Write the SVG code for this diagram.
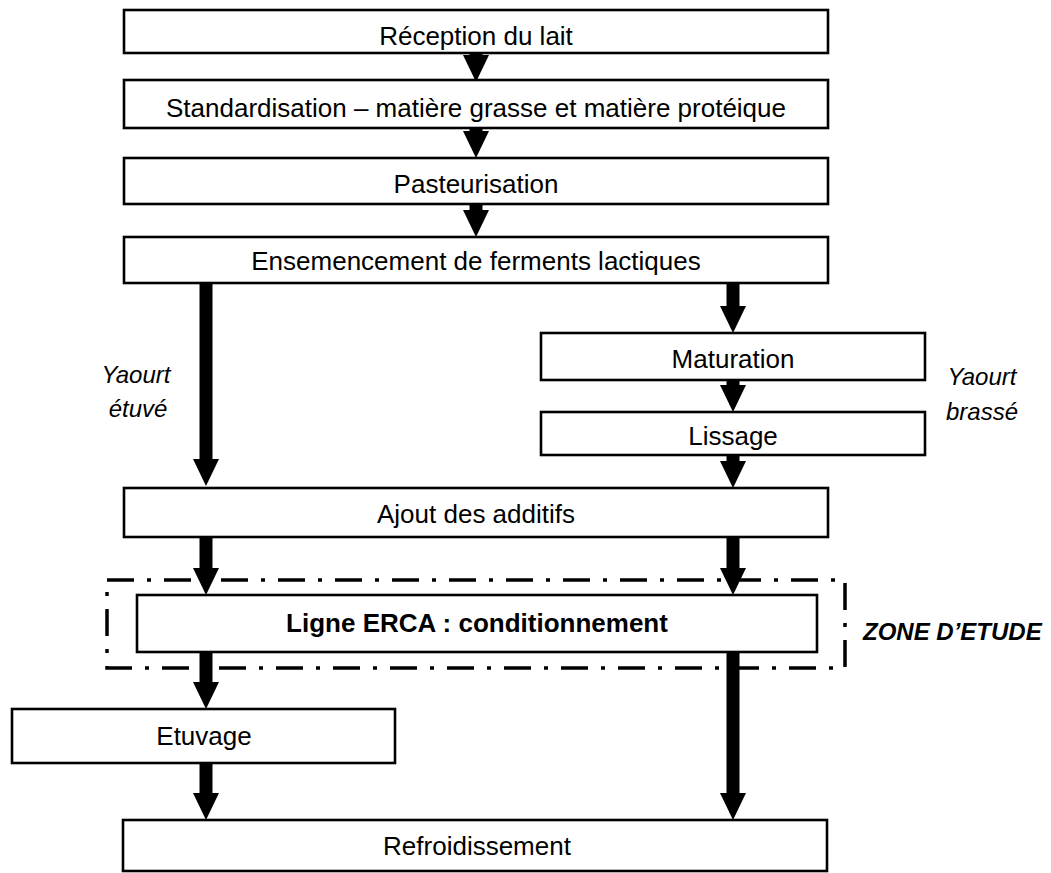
<svg xmlns="http://www.w3.org/2000/svg" width="1051" height="873" viewBox="0 0 1051 873">
<style>
.box{fill:#fff;stroke:#000;stroke-width:2.6}
.t{font-family:"Liberation Sans",Arial,sans-serif;font-size:26px;text-anchor:middle;fill:#000}
.b{font-weight:bold}
.lbl{font-family:"Liberation Sans",Arial,sans-serif;font-size:24px;font-style:italic;text-anchor:middle;fill:#000}
.zone{font-family:"Liberation Sans",Arial,sans-serif;font-size:24px;font-style:italic;font-weight:bold;fill:#000}
.c{stroke:#000;stroke-width:13;fill:none;marker-end:url(#ah)}
.dash{fill:none;stroke:#000;stroke-width:3.5;stroke-dasharray:27 13 4 13}
</style>
<defs>
<marker id="ah" markerUnits="userSpaceOnUse" markerWidth="27" markerHeight="26" refX="0" refY="13" orient="auto">
<path d="M0,0 L27,13 L0,26 z" fill="#000"/>
</marker>
</defs>
<rect width="1051" height="873" fill="#fff"/>

<g id="zone-etude">
<rect class="dash" x="107" y="580" width="738" height="88"/>
<text class="zone" x="863" y="640">ZONE D’ETUDE</text>
</g>

<g id="connectors">
<line class="c" x1="476" y1="53" x2="476" y2="55"/>
<line class="c" x1="476" y1="128" x2="476" y2="131"/>
<line class="c" x1="476" y1="204" x2="476" y2="210"/>
<line class="c" x1="206" y1="283" x2="206" y2="459"/>
<line class="c" x1="733" y1="283" x2="733" y2="306"/>
<line class="c" x1="733" y1="380" x2="733" y2="385"/>
<line class="c" x1="733" y1="455" x2="733" y2="461"/>
<line class="c" x1="206" y1="537" x2="206" y2="568"/>
<line class="c" x1="733" y1="537" x2="733" y2="568"/>
<line class="c" x1="206" y1="652" x2="206" y2="682"/>
<line class="c" x1="733" y1="652" x2="733" y2="793"/>
<line class="c" x1="206" y1="763" x2="206" y2="793"/>
</g>

<g id="n-reception"><rect class="box" x="124" y="10" width="704" height="43"/><text class="t" x="476" y="45">Réception du lait</text></g>
<g id="n-standardisation"><rect class="box" x="124" y="80" width="704" height="48"/><text class="t" x="476" y="117">Standardisation – matière grasse et matière protéique</text></g>
<g id="n-pasteurisation"><rect class="box" x="124" y="158" width="704" height="46"/><text class="t" x="476" y="193">Pasteurisation</text></g>
<g id="n-ensemencement"><rect class="box" x="124" y="237" width="704" height="46"/><text class="t" x="476" y="270">Ensemencement de ferments lactiques</text></g>
<g id="n-maturation"><rect class="box" x="541" y="333" width="384" height="47"/><text class="t" x="733" y="368">Maturation</text></g>
<g id="n-lissage"><rect class="box" x="541" y="412" width="384" height="43"/><text class="t" x="733" y="445">Lissage</text></g>
<g id="n-ajout"><rect class="box" x="124" y="488" width="704" height="49"/><text class="t" x="476" y="523">Ajout des additifs</text></g>
<g id="n-erca"><rect class="box" x="137" y="595" width="680" height="57"/><text class="t b" x="477" y="632">Ligne ERCA : conditionnement</text></g>
<g id="n-etuvage"><rect class="box" x="12" y="709" width="383" height="54"/><text class="t" x="204" y="745">Etuvage</text></g>
<g id="n-refroidissement"><rect class="box" x="123" y="820" width="704" height="51"/><text class="t" x="477" y="855">Refroidissement</text></g>

<g id="labels">
<text class="lbl" x="136" y="383">Yaourt</text>
<text class="lbl" x="138" y="417">étuvé</text>
<text class="lbl" x="982" y="385">Yaourt</text>
<text class="lbl" x="982" y="420">brassé</text>
</g>
</svg>
